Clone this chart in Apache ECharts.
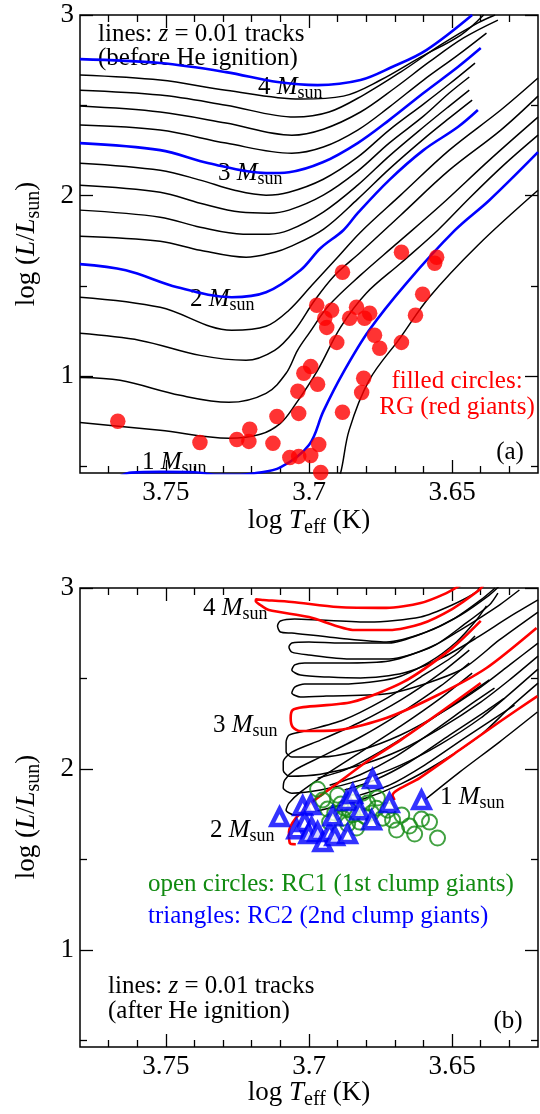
<!DOCTYPE html>
<html><head><meta charset="utf-8">
<script src="https://cdn.jsdelivr.net/npm/echarts@6/dist/echarts.min.js"></script>
<style>html,body{margin:0;padding:0;background:#fff}#c{width:540px;height:1114px}</style>
</head><body><div id="c"></div>
<script>
// ---------- axis tick values ----------
const X_MAJOR = [3.65, 3.70, 3.75];
const X_MINOR = [3.63, 3.64, 3.66, 3.67, 3.68, 3.69, 3.71, 3.72, 3.73, 3.74, 3.76, 3.77];
const Y_MAJOR = [1, 2, 3];
const Y_MINOR = [0.5, 1.5, 2.5];

// ---------- panel (a): tracks before He ignition  [logTeff, logL] ----------
const A_M40 = [[3.780,2.756],[3.752,2.734],[3.729,2.684],[3.711,2.629],[3.697,2.612],[3.682,2.640],[3.671,2.712],[3.659,2.806],[3.643,3.000]];
const A_M38 = [[3.780,2.668],[3.752,2.640],[3.729,2.584],[3.703,2.535],[3.688,2.551],[3.675,2.640],[3.661,2.767],[3.647,2.889],[3.639,3.000]];
const A_M36 = [[3.780,2.584],[3.752,2.557],[3.729,2.501],[3.705,2.435],[3.693,2.463],[3.681,2.557],[3.668,2.684],[3.654,2.834],[3.641,2.956],[3.635,3.000]];
const A_M34 = [[3.780,2.496],[3.752,2.463],[3.729,2.402],[3.706,2.335],[3.695,2.368],[3.682,2.463],[3.670,2.596],[3.658,2.740],[3.646,2.873],[3.634,2.972]];
const A_M32 = [[3.780,2.391],[3.752,2.363],[3.729,2.291],[3.706,2.235],[3.695,2.269],[3.683,2.363],[3.672,2.490],[3.660,2.640],[3.648,2.778],[3.638,2.900]];
const A_M30 = [[3.780,2.291],[3.752,2.252],[3.735,2.180],[3.715,2.125],[3.707,2.130],[3.695,2.186],[3.683,2.291],[3.672,2.418],[3.660,2.568],[3.648,2.712],[3.640,2.817]];
const A_M28 = [[3.780,2.180],[3.752,2.141],[3.738,2.086],[3.726,2.030],[3.715,2.003],[3.707,2.019],[3.695,2.091],[3.683,2.213],[3.672,2.363],[3.660,2.507],[3.651,2.618],[3.642,2.734]];
const A_M26 = [[3.780,2.058],[3.752,2.019],[3.738,1.958],[3.724,1.909],[3.714,1.903],[3.707,1.920],[3.695,2.003],[3.683,2.136],[3.672,2.291],[3.660,2.440],[3.651,2.568],[3.644,2.657]];
const A_M24 = [[3.780,1.920],[3.752,1.881],[3.738,1.825],[3.723,1.787],[3.714,1.787],[3.707,1.809],[3.695,1.909],[3.683,2.058],[3.672,2.219],[3.660,2.380],[3.651,2.496],[3.644,2.584]];
const A_M22 = [[3.780,1.776],[3.752,1.748],[3.738,1.698],[3.722,1.659],[3.712,1.687],[3.707,1.715],[3.695,1.814],[3.683,1.981],[3.672,2.147],[3.660,2.313],[3.651,2.429],[3.643,2.529]];
const A_M20 = [[3.780,1.621],[3.764,1.587],[3.746,1.493],[3.727,1.438],[3.715,1.465],[3.703,1.587],[3.696,1.709],[3.688,1.809],[3.683,1.903],[3.672,2.086],[3.660,2.252],[3.648,2.380],[3.641,2.474]];
const A_M18 = [[3.780,1.438],[3.752,1.382],[3.727,1.255],[3.715,1.277],[3.707,1.366],[3.699,1.504],[3.690,1.659],[3.682,1.798],[3.668,2.003],[3.651,2.252],[3.633,2.474],[3.620,2.651]];
const A_M16 = [[3.780,1.238],[3.759,1.199],[3.738,1.116],[3.722,1.089],[3.712,1.144],[3.705,1.255],[3.698,1.421],[3.691,1.560],[3.682,1.687],[3.668,1.892],[3.651,2.141],[3.633,2.363],[3.620,2.551]];
const A_M14 = [[3.780,0.994],[3.766,0.978],[3.745,0.895],[3.728,0.856],[3.715,0.906],[3.708,1.017],[3.704,1.144],[3.700,1.238],[3.693,1.393],[3.682,1.560],[3.670,1.726],[3.654,1.947],[3.637,2.197],[3.620,2.435]];
const A_M12 = [[3.780,0.745],[3.752,0.701],[3.728,0.657],[3.717,0.679],[3.710,0.740],[3.705,0.839],[3.697,1.033],[3.689,1.271],[3.680,1.460],[3.668,1.626],[3.655,1.809],[3.644,1.986],[3.632,2.169],[3.620,2.335]];
const A_M10 = [[3.767,0.440],[3.762,0.467],[3.752,0.471],[3.740,0.469],[3.732,0.455],[3.724,0.455],[3.719,0.463],[3.710,0.496],[3.700,0.620],[3.695,0.806],[3.688,1.022],[3.679,1.255],[3.666,1.515],[3.649,1.809],[3.637,1.975],[3.620,2.241]];
const A_M09 = [[3.691,0.400],[3.689,0.463],[3.686,0.701],[3.679,0.978],[3.668,1.216],[3.658,1.438],[3.641,1.726],[3.620,2.030]];

// red giants (filled circles)
const RG_T = [3.7668,3.7381,3.7252,3.7207,3.7210,3.7126,3.7112,3.7067,3.7036,3.6994,3.6959,3.6966,3.7036,3.7039,3.7018,3.6994,3.6970,3.6883,3.6816,3.6809,3.6903,3.6938,3.6945,3.6973,3.6921,3.6883,3.6858,3.6834,3.6806,3.6788,3.6771,3.6753,3.6677,3.6628,3.6603,3.6677,3.6554,3.6561];
const RG_L = [0.751,0.634,0.651,0.707,0.640,0.629,0.778,0.551,0.557,0.562,0.468,0.623,0.795,0.917,1.017,1.055,0.956,0.801,0.911,0.989,1.188,1.271,1.321,1.393,1.366,1.576,1.321,1.382,1.321,1.349,1.227,1.155,1.188,1.338,1.454,1.687,1.659,1.626];

// ---------- panel (b): tracks after He ignition ----------
const B_M40 = [[3.647,3.017],[3.652,2.972],[3.661,2.917],[3.673,2.890],[3.690,2.895],[3.706,2.923],[3.716,2.934],[3.7185,2.937],[3.7186,2.928],[3.717,2.906],[3.714,2.878],[3.700,2.840],[3.684,2.768],[3.672,2.768],[3.661,2.801],[3.650,2.884],[3.641,2.983],[3.639,3.017]];
const B_M38 = [[3.640,3.017],[3.6415,2.978],[3.650,2.906],[3.661,2.840],[3.679,2.812],[3.696,2.823],[3.705,2.829],[3.710,2.818],[3.711,2.790],[3.710,2.757],[3.706,2.751],[3.690,2.724],[3.673,2.702],[3.659,2.757],[3.647,2.851],[3.637,2.961],[3.6335,3.011]];
const B_M36 = [[3.635,3.000],[3.640,2.934],[3.649,2.834],[3.660,2.751],[3.672,2.696],[3.689,2.696],[3.700,2.702],[3.706,2.696],[3.707,2.674],[3.706,2.646],[3.700,2.630],[3.686,2.608],[3.672,2.608],[3.658,2.668],[3.646,2.779],[3.6335,2.906],[3.6265,2.989]];
const B_M34 = [[3.634,2.972],[3.637,2.906],[3.646,2.796],[3.656,2.685],[3.672,2.597],[3.689,2.586],[3.7015,2.586],[3.705,2.575],[3.706,2.547],[3.703,2.519],[3.693,2.508],[3.682,2.503],[3.667,2.530],[3.653,2.619],[3.6415,2.724],[3.630,2.840],[3.620,2.934]];
const B_M32 = [[3.638,2.901],[3.6415,2.823],[3.6485,2.702],[3.658,2.591],[3.670,2.503],[3.688,2.470],[3.7015,2.470],[3.705,2.453],[3.706,2.420],[3.703,2.398],[3.694,2.403],[3.671,2.420],[3.647,2.547],[3.6335,2.713],[3.620,2.867]];
const B_M30 = [[3.640,2.818],[3.650,2.668],[3.667,2.481],[3.685,2.370],[3.702,2.342],[3.7057,2.326],[3.7064,2.282],[3.7057,2.232],[3.7032,2.210],[3.690,2.215],[3.673,2.282],[3.655,2.409],[3.638,2.558],[3.6205,2.779]];
const B_M28 = [[3.642,2.735],[3.649,2.630],[3.661,2.508],[3.674,2.381],[3.688,2.271],[3.7015,2.210],[3.707,2.188],[3.708,2.149],[3.708,2.094],[3.706,2.066],[3.696,2.066],[3.682,2.105],[3.668,2.188],[3.654,2.309],[3.640,2.453],[3.630,2.574],[3.620,2.696]];
const B_M26 = [[3.644,2.657],[3.654,2.530],[3.668,2.381],[3.682,2.260],[3.696,2.160],[3.706,2.094],[3.709,2.039],[3.709,1.994],[3.707,1.961],[3.696,1.972],[3.682,2.022],[3.668,2.105],[3.654,2.226],[3.640,2.370],[3.630,2.492],[3.620,2.624]];
const B_M24 = [[3.644,2.586],[3.654,2.459],[3.668,2.309],[3.682,2.177],[3.696,2.066],[3.705,1.994],[3.7085,1.939],[3.709,1.895],[3.706,1.867],[3.696,1.884],[3.682,1.939],[3.668,2.022],[3.654,2.138],[3.640,2.282],[3.630,2.414],[3.620,2.552]];
const B_M22 = [[3.643,2.530],[3.654,2.392],[3.668,2.237],[3.682,2.094],[3.6945,1.967],[3.703,1.873],[3.707,1.812],[3.708,1.773],[3.705,1.746],[3.696,1.773],[3.682,1.829],[3.668,1.917],[3.654,2.039],[3.640,2.188],[3.630,2.337],[3.620,2.475]];
const B_M20 = [[3.640,2.475],[3.654,2.315],[3.668,2.160],[3.680,2.039],[3.690,1.922],[3.699,1.817],[3.7046,1.729],[3.707,1.652],[3.7067,1.591],[3.7046,1.585]];
const B_M18 = [[3.697,1.950],[3.6876,1.994],[3.6754,2.094],[3.6614,2.232],[3.6474,2.381],[3.637,2.492]];
const B_M16 = [[3.6928,1.911],[3.6823,1.967],[3.6701,2.066],[3.6561,2.215],[3.6439,2.353],[3.6352,2.447]];
const B_M14 = [[3.6876,1.884],[3.6771,1.939],[3.6649,2.039],[3.6509,2.188],[3.6387,2.315],[3.6317,2.392]];
const B_M12 = [[3.6823,1.856],[3.6719,1.911],[3.6596,2.022],[3.6457,2.171],[3.6335,2.298],[3.6282,2.353]];
const B_M10 = [[3.6701,1.829],[3.6708,1.856],[3.6614,1.950],[3.6474,2.105],[3.6335,2.260],[3.6202,2.403]];
const B_M09 = [[3.6596,1.829],[3.6474,1.983],[3.6335,2.149],[3.6202,2.315]];

// RC1 (open circles)
const RC1_T = [3.6970,3.6952,3.6935,3.6910,3.6889,3.6882,3.6865,3.6847,3.6841,3.6823,3.6813,3.6795,3.6781,3.6764,3.6743,3.6725,3.6708,3.6694,3.6649,3.6631,3.6607,3.6551,3.6928,3.6876,3.6858,3.6834,3.6806,3.6761,3.6676,3.6579,3.6900];
const RC1_L = [1.889,1.829,1.779,1.757,1.807,1.729,1.696,1.746,1.818,1.707,1.867,1.812,1.757,1.784,1.729,1.773,1.718,1.663,1.685,1.641,1.724,1.619,1.707,1.784,1.773,1.674,1.740,1.840,1.746,1.707,1.856];
// RC2 (triangles)
const RC2_T = [3.7103,3.7022,3.6994,3.7043,3.7015,3.6991,3.7001,3.6970,3.6952,3.6928,3.6910,3.6917,3.6868,3.6847,3.6865,3.6823,3.6781,3.6778,3.6719,3.6607];
const RC2_L = [1.735,1.796,1.801,1.668,1.707,1.679,1.641,1.652,1.597,1.652,1.630,1.740,1.823,1.862,1.641,1.773,1.718,1.945,1.812,1.829];

// ---------- build ----------
const FONTNAME = '"Liberation Serif"';
const BLUE = '#0000ff', RED = '#ff0000', GREEN = '#118a11';
const pair = (a, b) => a.map((v, i) => [v, b[i]]);

const ctx = document.createElement('canvas').getContext('2d');
function fontStr(size, italic) { return (italic ? 'italic ' : '') + size + 'px ' + FONTNAME; }
// pieces: [text, size, italic, dy]
function mtext(pieces, x, y, color, align, rotation) {
  const widths = pieces.map(p => { ctx.font = fontStr(p[1], p[2]); return ctx.measureText(p[0]).width; });
  const total = widths.reduce((a, b) => a + b, 0);
  let cx = align === 'center' ? -total / 2 : (align === 'right' ? -total : 0);
  const children = [];
  pieces.forEach((p, i) => {
    children.push({type: 'text', x: cx, y: p[3] || 0, silent: true,
      style: {text: p[0], font: fontStr(p[1], p[2]), fill: color, align: 'left', verticalAlign: 'middle', textAlign: 'left', textVerticalAlign: 'middle'}});
    cx += widths[i];
  });
  return {type: 'group', x: x, y: y, rotation: rotation || 0, silent: true, children};
}
const msun = (n, x, y) => mtext([[n + ' ', 25], ['M', 25, true], ['sun', 18, false, 6]], x, y, '#000', 'left');

const tickStyle = {color: '#000', width: 1.3};
function xAxesFor(g) {
  const base = {gridIndex: g, type: 'value', min: 3.62, max: 3.78, inverse: true, axisLine: {show: false}, splitLine: {show: false}};
  return [
    Object.assign({}, base, {position: 'bottom', axisTick: {inside: true, length: 13, lineStyle: tickStyle, customValues: X_MAJOR},
      axisLabel: {customValues: X_MAJOR, formatter: v => String(Math.round(v * 100) / 100), fontFamily: FONTNAME, fontSize: 27, color: '#000', margin: 6}}),
    Object.assign({}, base, {position: 'bottom', axisTick: {inside: true, length: 7, lineStyle: tickStyle, customValues: X_MINOR}, axisLabel: {show: false}}),
    Object.assign({}, base, {position: 'top', axisTick: {inside: true, length: 13, lineStyle: tickStyle, customValues: X_MAJOR}, axisLabel: {show: false}}),
    Object.assign({}, base, {position: 'top', axisTick: {inside: true, length: 7, lineStyle: tickStyle, customValues: X_MINOR}, axisLabel: {show: false}})
  ];
}
function yAxesFor(g) {
  const base = {gridIndex: g, type: 'value', min: 0.465, max: 3, axisLine: {show: false}, splitLine: {show: false}};
  return [
    Object.assign({}, base, {position: 'left', axisTick: {inside: true, length: 13, lineStyle: tickStyle, customValues: Y_MAJOR},
      axisLabel: {customValues: Y_MAJOR, formatter: v => String(v), fontFamily: FONTNAME, fontSize: 27, color: '#000', margin: 6}}),
    Object.assign({}, base, {position: 'left', axisTick: {inside: true, length: 7, lineStyle: tickStyle, customValues: Y_MINOR}, axisLabel: {show: false}}),
    Object.assign({}, base, {position: 'right', axisTick: {inside: true, length: 13, lineStyle: tickStyle, customValues: Y_MAJOR}, axisLabel: {show: false}}),
    Object.assign({}, base, {position: 'right', axisTick: {inside: true, length: 7, lineStyle: tickStyle, customValues: Y_MINOR}, axisLabel: {show: false}})
  ];
}

function track(data, color, width, ai, smooth) {
  return {type: 'line', xAxisIndex: ai, yAxisIndex: ai, data: data, symbol: 'none', showSymbol: false,
    smooth: smooth, lineStyle: {color: color, width: width}, z: 2, silent: true, emphasis: {disabled: true}};
}

const series = [];
[A_M09, A_M12, A_M14, A_M16, A_M18, A_M22, A_M24, A_M26, A_M28, A_M32, A_M34, A_M36, A_M38].forEach(d => series.push(track(d, '#000', 1.5, 0, 0.35)));
[A_M10, A_M20, A_M30, A_M40].forEach(d => series.push(track(d, BLUE, 2.6, 0, 0.35)));
series.push({type: 'scatter', xAxisIndex: 0, yAxisIndex: 0, data: pair(RG_T, RG_L), symbol: 'circle', symbolSize: 15.5,
  itemStyle: {color: RED}, z: 5, silent: true});
[B_M09, B_M12, B_M14, B_M16, B_M18, B_M22, B_M24, B_M26, B_M28, B_M32, B_M34, B_M36, B_M38].forEach(d => series.push(track(d, '#000', 1.5, 4, 0.25)));
[B_M10, B_M20, B_M30, B_M40].forEach(d => series.push(track(d, RED, 2.6, 4, 0.25)));
series.push({type: 'scatter', xAxisIndex: 4, yAxisIndex: 4, data: pair(RC1_T, RC1_L), symbol: 'circle', symbolSize: 15,
  itemStyle: {color: 'rgba(255,255,255,0)', borderColor: GREEN, borderWidth: 2}, z: 5, silent: true});
series.push({type: 'scatter', xAxisIndex: 4, yAxisIndex: 4, data: pair(RC2_T, RC2_L), symbol: 'triangle', symbolSize: 16,
  itemStyle: {color: '#fff', borderColor: BLUE, borderWidth: 4.5}, z: 6, silent: true});

const graphics = [
  // panel (a)
  mtext([['lines: ', 25], ['z', 25, true], [' = 0.01 tracks', 25]], 98, 34, '#000', 'left'),
  mtext([['(before He ignition)', 25]], 98, 58, '#000', 'left'),
  msun('4', 258, 87), msun('3', 218, 173), msun('2', 190, 299), msun('1', 142, 462),
  mtext([['filled circles:', 25]], 457, 381, RED, 'center'),
  mtext([['RG (red giants)', 25]], 457, 407, RED, 'center'),
  mtext([['(a)', 25]], 510, 452, '#000', 'center'),
  mtext([['log ', 27], ['T', 27, true], ['eff', 20, false, 7], [' (K)', 27]], 309, 521, '#000', 'center'),
  mtext([['log (', 27], ['L', 27, true], ['/', 27], ['L', 27, true], ['sun', 20, false, 7], [')', 27]], 27, 244, '#000', 'center', Math.PI / 2),
  // panel (b)
  msun('4', 203, 608), msun('3', 213, 725), msun('2', 210, 830), msun('1', 440, 797),
  mtext([['open circles: RC1 (1st clump giants)', 25]], 148, 884, GREEN, 'left'),
  mtext([['triangles: RC2 (2nd clump giants)', 25]], 148, 916, BLUE, 'left'),
  mtext([['lines: ', 25], ['z', 25, true], [' = 0.01 tracks', 25]], 108, 986, '#000', 'left'),
  mtext([['(after He ignition)', 25]], 108, 1011, '#000', 'left'),
  mtext([['(b)', 25]], 508, 1021, '#000', 'center'),
  mtext([['log ', 27], ['T', 27, true], ['eff', 20, false, 7], [' (K)', 27]], 309, 1093, '#000', 'center'),
  mtext([['log (', 27], ['L', 27, true], ['/', 27], ['L', 27, true], ['sun', 20, false, 7], [')', 27]], 27, 817, '#000', 'center', Math.PI / 2)
];

const chart = echarts.init(document.getElementById('c'), null, {renderer: 'canvas'});
chart.setOption({
  animation: false,
  backgroundColor: '#fff',
  grid: [
    {left: 80, top: 15, width: 458, height: 458, show: true, borderColor: '#000', borderWidth: 1.5, backgroundColor: 'transparent'},
    {left: 80, top: 588, width: 458, height: 459, show: true, borderColor: '#000', borderWidth: 1.5, backgroundColor: 'transparent'}
  ],
  xAxis: xAxesFor(0).concat(xAxesFor(1)),
  yAxis: yAxesFor(0).concat(yAxesFor(1)),
  series: series,
  graphic: {elements: graphics}
});
</script>
</body></html>
